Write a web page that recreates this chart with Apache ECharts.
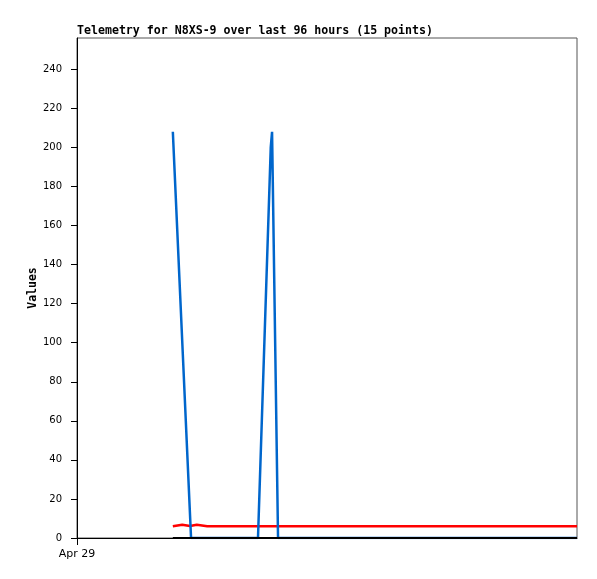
<!DOCTYPE html>
<html>
<head>
<meta charset="utf-8">
<script src="https://cdn.jsdelivr.net/npm/echarts@6/dist/echarts.min.js"></script>
<style>html,body{margin:0;padding:0;background:#fff;}#c{width:597px;height:579px;}</style>
</head>
<body>
<div id="c"></div>
<script>
const titleText = 'Telemetry for N8XS-9 over last 96 hours (15 points)';
const yTicks = [0, 20, 40, 60, 80, 100, 120, 140, 160, 180, 200, 220, 240];
const xTickLabel = 'Apr 29';
// time in hours since start of 96h window
const blueHours = [18.4, 21.9, 34.75, 37.2, 37.45, 38.6, 96];
const blueValues = [208, 0, 0, 200, 208, 0, 0];
const redHours = [18.4, 20.2, 21.7, 23.0, 25.0, 96];
const redValues = [6.0, 6.8, 6.1, 6.8, 6.0, 6.0];
const blackHours = [18.4, 96];
const blackValues = [0, 0];

function pairs(xs, ys) { return xs.map((x, i) => [x, ys[i]]); }

const chart = echarts.init(document.getElementById('c'), null, {renderer: 'canvas'});
chart.setOption({
  animation: false,
  backgroundColor: '#fff',
  title: {
    text: titleText, left: 77, top: 25, padding: 0,
    textStyle: {fontFamily: 'DejaVu Sans Mono', fontWeight: 'bold', fontSize: 11.6, color: '#000'}
  },
  grid: {left: 77, right: 20, top: 38, bottom: 41, show: true, borderColor: '#555', borderWidth: 1},
  xAxis: {
    type: 'value', min: 0, max: 96, interval: 96,
    axisLine: {lineStyle: {color: '#000', width: 1}},
    axisTick: {show: true, length: 7, customValues: [0], lineStyle: {color: '#000'}},
    axisLabel: {customValues: [0], formatter: () => xTickLabel, margin: 11,
      fontFamily: 'DejaVu Sans', fontSize: 11, color: '#000'},
    splitLine: {show: false}
  },
  yAxis: {
    type: 'value', min: 0, max: 256, interval: 20,
    name: 'Values', nameLocation: 'middle', nameRotate: 90, nameGap: 38, nameMoveOverlap: false,
    nameTextStyle: {fontFamily: 'DejaVu Sans Mono', fontWeight: 'bold', fontSize: 11.5, color: '#000'},
    axisLine: {show: true, lineStyle: {color: '#000', width: 1}},
    axisTick: {show: true, length: 6, customValues: yTicks, lineStyle: {color: '#000'}},
    axisLabel: {customValues: yTicks, margin: 15, fontFamily: 'DejaVu Sans', fontSize: 10, color: '#000'},
    splitLine: {show: false}
  },
  series: [
    {type: 'line', data: pairs(redHours, redValues), showSymbol: false, z: 2,
      lineStyle: {color: '#ff0000', width: 2.5}},
    {type: 'line', data: pairs(blueHours, blueValues), showSymbol: false, z: 3,
      lineStyle: {color: '#0066cc', width: 2.5}},
    {type: 'line', data: pairs(blackHours, blackValues), showSymbol: false, z: 4,
      lineStyle: {color: '#000000', width: 2}}
  ]
});
</script>
</body>
</html>
